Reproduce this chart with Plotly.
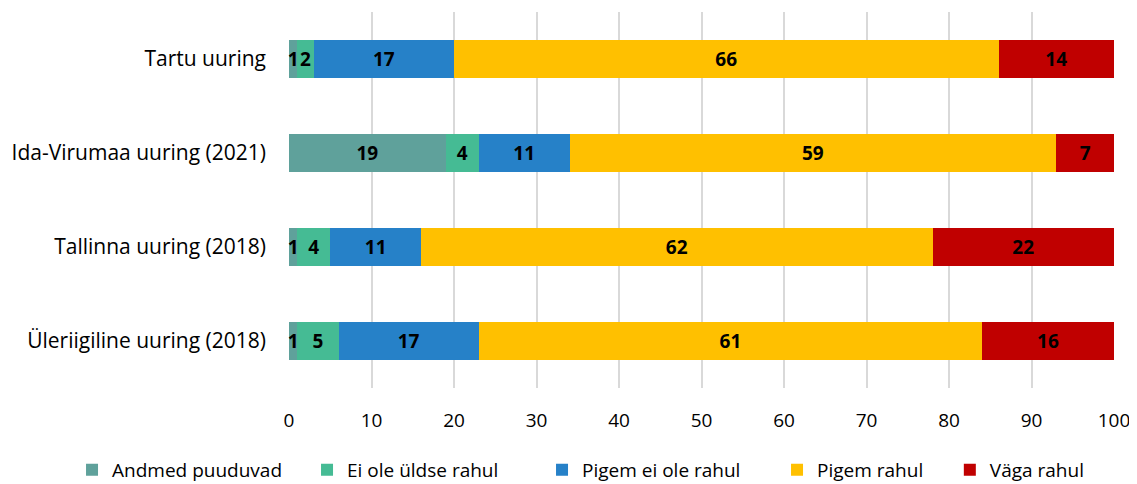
import plotly.graph_objects as go

categories = ["Tartu uuring", "Ida-Virumaa uuring (2021)", "Tallinna uuring (2018)", "Üleriigiline uuring (2018)"]
series_names = ["Andmed puuduvad", "Ei ole üldse rahul", "Pigem ei ole rahul", "Pigem rahul", "Väga rahul"]
andmed_puuduvad = [1, 19, 1, 1]
ei_ole_uldse = [2, 4, 4, 5]
pigem_ei_ole = [17, 11, 11, 17]
pigem_rahul = [66, 59, 62, 61]
vaga_rahul = [14, 7, 22, 16]
colors = ["#5FA19B", "#45BB94", "#2681C8", "#FFC000", "#C00000"]
legend_ids = ["legend", "legend", "legend", "legend", "legend2"]

values = [andmed_puuduvad, ei_ole_uldse, pigem_ei_ole, pigem_rahul, vaga_rahul]
font_family = "Open Sans, Noto Sans, sans-serif"

fig = go.Figure()
for name, vals, col, lg in zip(series_names, values, colors, legend_ids):
    fig.add_trace(go.Bar(
        y=categories, x=vals, name=name, orientation="h",
        marker=dict(color=col, line=dict(width=0)),
        text=[str(v) for v in vals], textposition="inside",
        insidetextanchor="middle",
        textfont=dict(color="black", size=19, family=font_family, weight="bold"),
        cliponaxis=False, legend=lg,
    ))

fig.update_layout(
    barmode="stack", bargap=0.6,
    width=1129, height=476,
    margin=dict(l=281, r=23, t=4, b=96, autoexpand=False),
    plot_bgcolor="white", paper_bgcolor="white",
    font=dict(family=font_family, size=19, color="black"),
    uniformtext=dict(minsize=19, mode="show"),
    legend=dict(orientation="h", x=-0.263, xanchor="left", y=-0.167, yanchor="top",
                font=dict(size=19), traceorder="normal", itemwidth=30,
                entrywidth=190),
    legend2=dict(orientation="h", x=0.801, xanchor="left", y=-0.167, yanchor="top",
                 font=dict(size=19), itemwidth=30),
    xaxis=dict(range=[0, 100], dtick=10, showgrid=True, gridcolor="#D9D9D9",
               gridwidth=1.5, zeroline=False, ticks="", tickfont=dict(size=19),
               ticklabelstandoff=19, ticklabeloverflow="allow"),
    yaxis=dict(autorange="reversed", ticks="", tickfont=dict(size=21),
               ticklabelstandoff=22),
)

fig.write_html("out.html")
